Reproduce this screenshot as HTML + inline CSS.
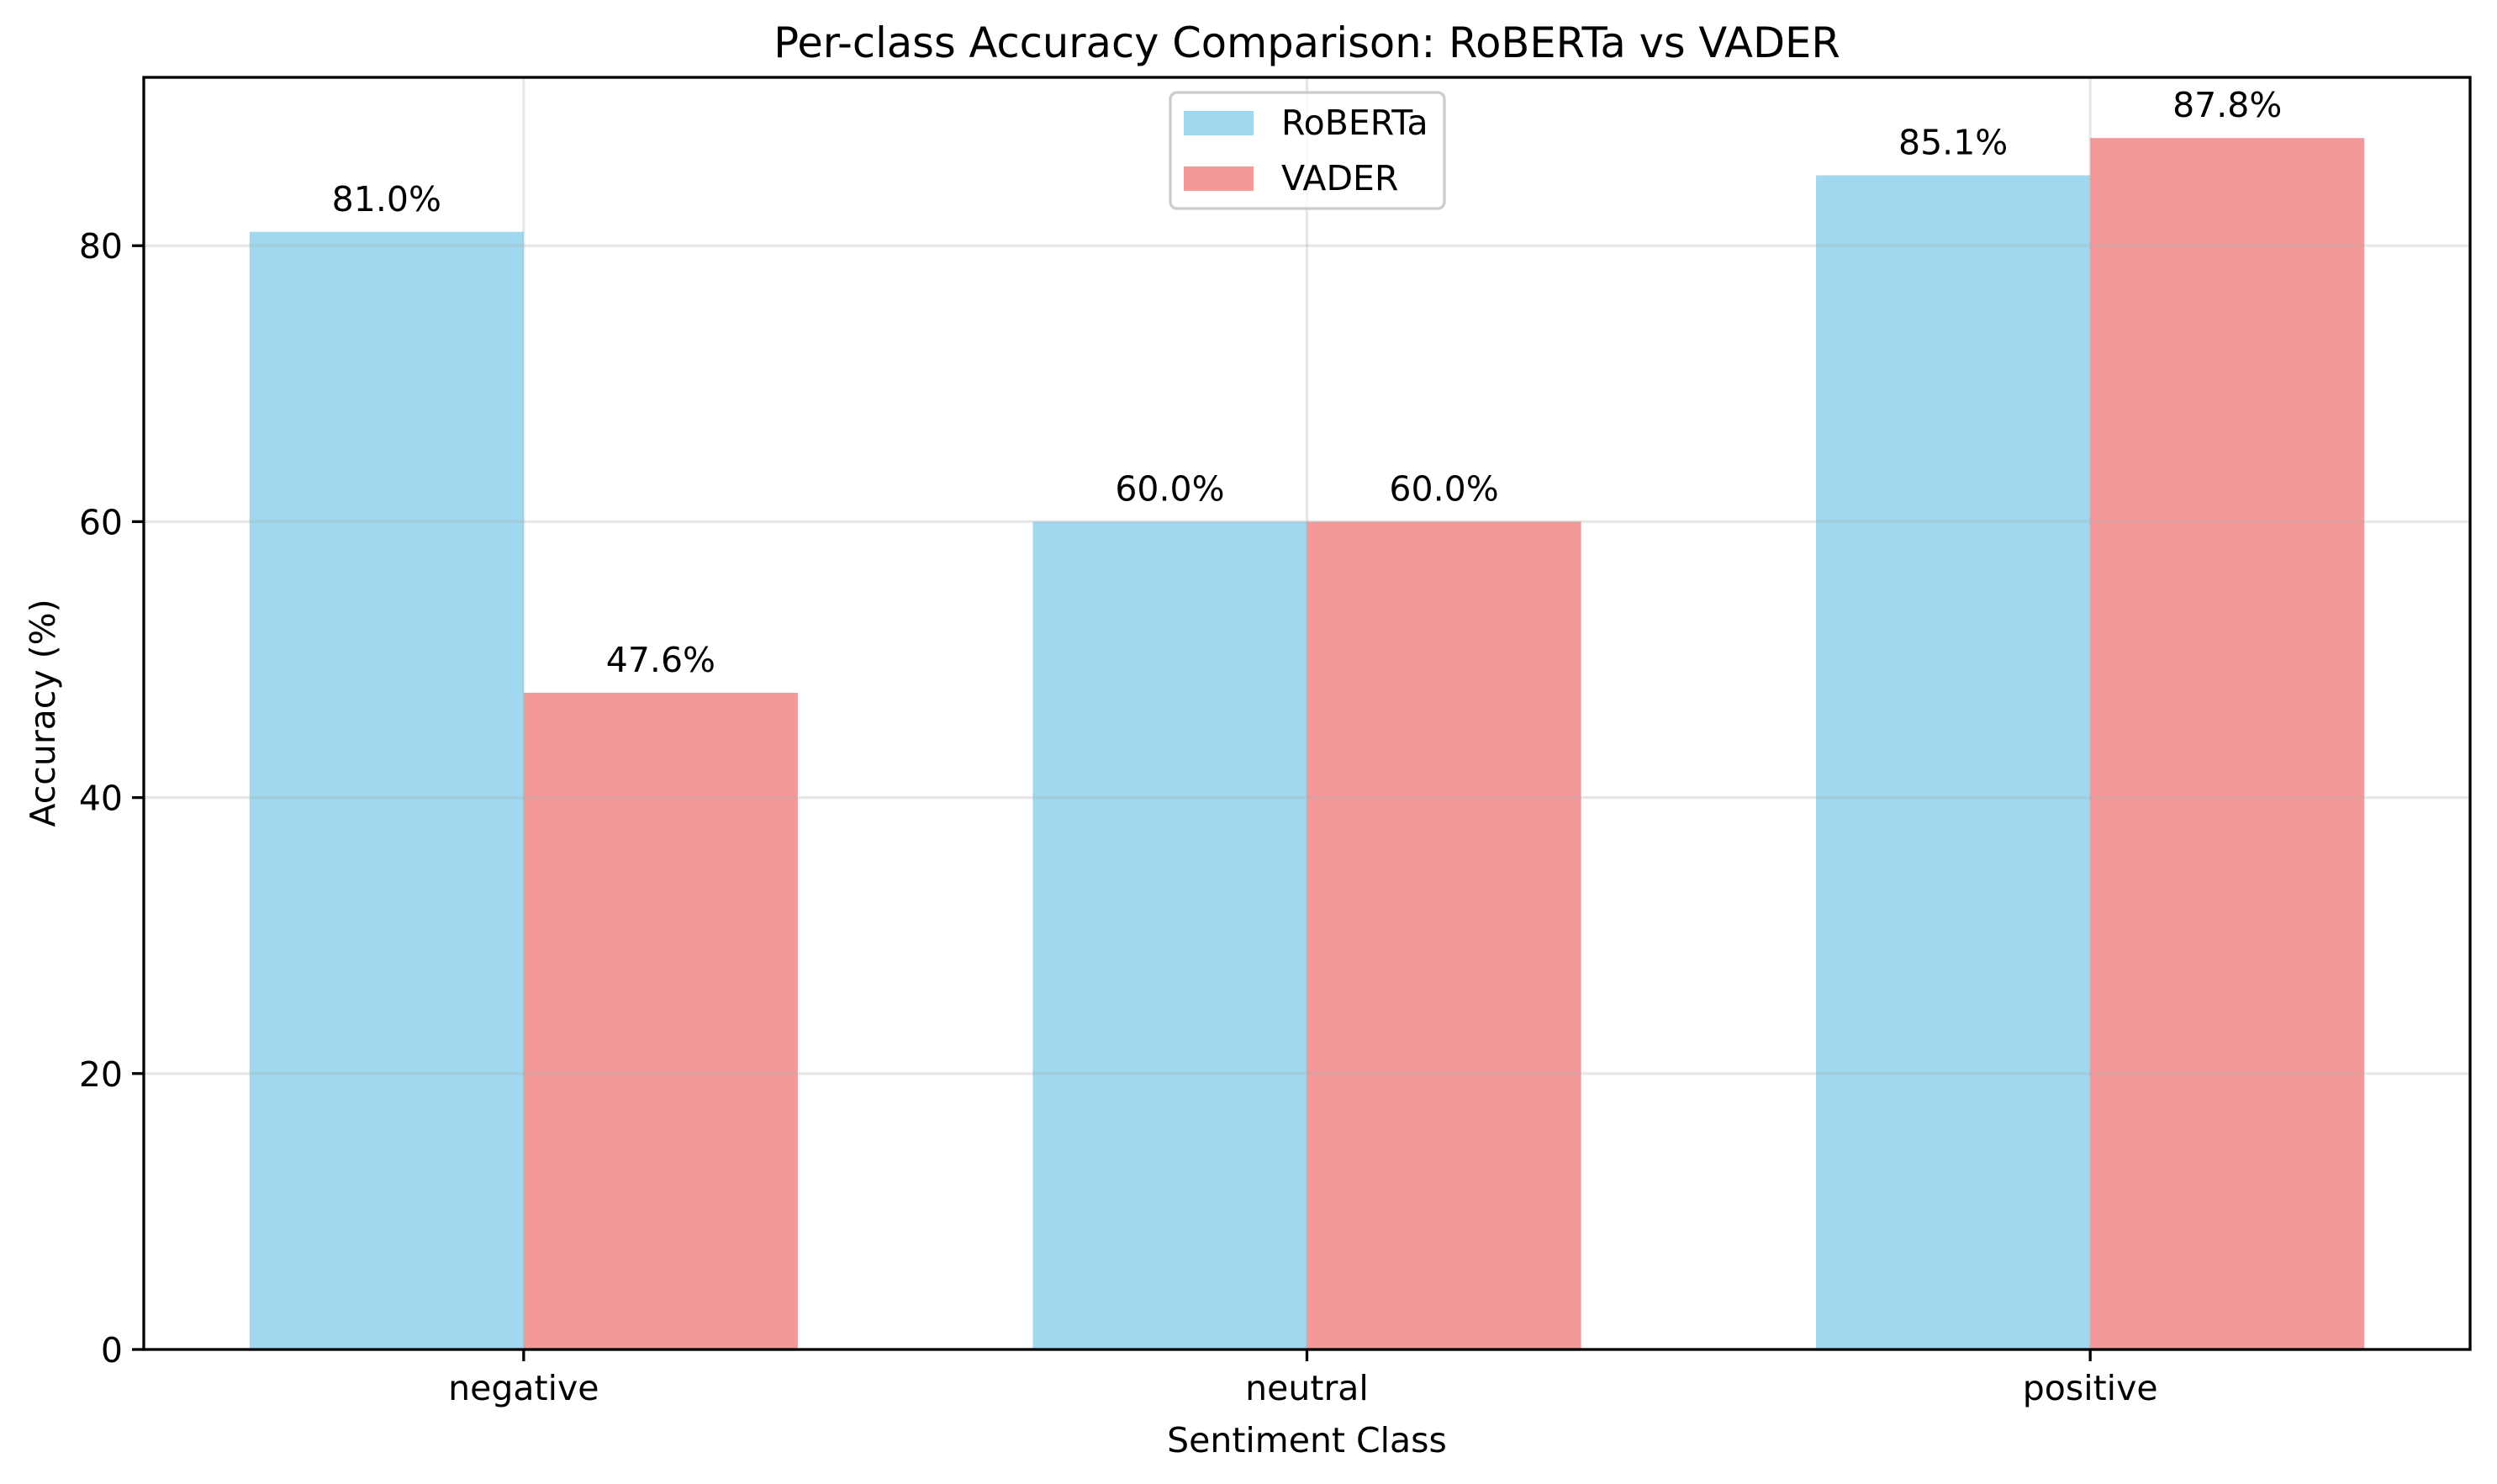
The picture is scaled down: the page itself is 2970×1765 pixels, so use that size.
<!DOCTYPE html>
<html><head><meta charset="utf-8"><style>
html,body{margin:0;padding:0;background:#fff;}
svg{display:block;font-family:"DejaVu Sans","Liberation Sans",sans-serif;}
</style></head><body>
<svg id="chart" width="2970" height="1765" viewBox="0 0 2970 1765">
<g id="plot"></g>
</svg>
<script>
const categories = ["negative","neutral","positive"];
const robertaValues = [81.0, 60.0, 85.1];
const vaderValues = [47.6, 60.0, 87.8];
const yTicks = [0, 20, 40, 60, 80];
const seriesNames = ["RoBERTa","VADER"];

const L=171,R=2938,T=92,B=1605;
const xMin=-0.485,xMax=2.485,yMax=92.2;
const sx=v=>L+(v-xMin)/(xMax-xMin)*(R-L);
const sy=v=>B-v/yMax*(B-T);
const NS="http://www.w3.org/2000/svg";
const g=document.getElementById('plot');
function mk(tag,attrs,parent){const e=document.createElementNS(NS,tag);for(const k in attrs)e.setAttribute(k,attrs[k]);(parent||g).appendChild(e);return e;}
const colors=["rgba(135,206,235,0.8)","rgba(240,128,128,0.8)"];
const w=0.35;
// bars
[robertaValues,vaderValues].forEach((vals,s)=>{
  vals.forEach((v,i)=>{
    const x0=sx(i+(s===0?-w:0)), x1=sx(i+(s===0?0:w));
    const r=mk('rect',{x:x0,y:sy(v),width:x1-x0,height:sy(0)-sy(v),fill:colors[s]});
    
    
    const t=mk('text',{x:(x0+x1)/2,y:sy(v)-25,'text-anchor':'middle','font-size':41,fill:'#000'});
    t.textContent=v.toFixed(1)+'%';
    
    
  });
});
// grid
yTicks.forEach(v=>{
  const l=mk('line',{x1:L,x2:R,y1:sy(v),y2:sy(v),stroke:'#b0b0b0','stroke-opacity':0.3,'stroke-width':3.3});
  
  
  mk('line',{x1:L-14,x2:L,y1:sy(v),y2:sy(v),stroke:'#000','stroke-width':3.3});
  const t=mk('text',{x:L-25,y:sy(v)+15,'text-anchor':'end','font-size':41});
  t.textContent=v;
  
  
});
categories.forEach((c,i)=>{
  const l=mk('line',{x1:sx(i),x2:sx(i),y1:T,y2:B,stroke:'#b0b0b0','stroke-opacity':0.3,'stroke-width':3.3});
  
  
  mk('line',{x1:sx(i),x2:sx(i),y1:B,y2:B+14,stroke:'#000','stroke-width':3.3});
  const t=mk('text',{x:sx(i),y:B+60,'text-anchor':'middle','font-size':41});
  t.textContent=c;
  
  
});
// frame
const f=mk('rect',{x:L,y:T,width:R-L,height:B-T,fill:'none',stroke:'#000','stroke-width':3.3});


// title & labels
const ti=mk('text',{x:(L+R)/2,y:68,'text-anchor':'middle','font-size':49.5});
ti.textContent='Per-class Accuracy Comparison: RoBERTa vs VADER';


const xl=mk('text',{x:(L+R)/2,y:1727,'text-anchor':'middle','font-size':41});
xl.textContent='Sentiment Class';


const yl=mk('text',{x:0,y:0,'text-anchor':'middle','font-size':41,transform:'translate(65,848) rotate(-90)'});
yl.textContent='Accuracy (%)';


// legend
const lg=mk('g',{});


mk('rect',{x:1392,y:110,width:326,height:138,rx:8,fill:'rgba(255,255,255,0.8)',stroke:'#ccc','stroke-width':3.3},lg);
seriesNames.forEach((n,s)=>{
  const yy=s===0?146:212;
  mk('rect',{x:1408,y:yy-14,width:83,height:29,fill:colors[s]},lg);
  const t=mk('text',{x:1524,y:yy+14,'font-size':41},lg);
  t.textContent=n;
  
  
});
</script>
</body></html>
